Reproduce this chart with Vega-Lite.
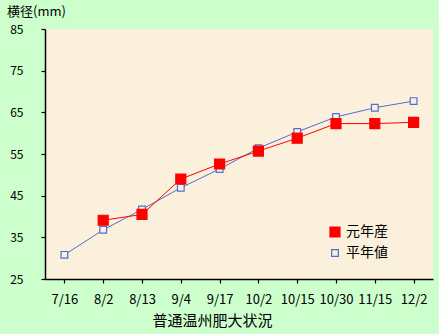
{
  "$schema": "https://vega.github.io/schema/vega-lite/v6.json",
  "width": 388,
  "height": 250,
  "autosize": {"type": "none"},
  "padding": {"left": 45, "top": 29, "right": 6, "bottom": 55},
  "background": "#CCFFCC",
  "title": {"text": "横径(mm)", "anchor": "start", "frame": "group", "dx": -38, "offset": 4, "fontSize": 13, "fontWeight": "normal", "color": "#000000", "font": "Noto Sans CJK JP"},
  "config": {
    "view": {"fill": "#FBF0DC", "stroke": null},
    "font": "Noto Sans CJK JP",
    "axis": {"labelFont": "Noto Sans CJK JP", "titleFont": "Noto Sans CJK JP", "labelColor": "#000000", "titleColor": "#000000", "domainColor": "#000000", "tickColor": "#000000", "labelFontSize": 13, "grid": false, "zindex": 1, "ticks": true, "tickWidth": 1.2}
  },
  "data": {"values": [
    {"date": "7/16", "series": "平年値", "v": 30.8},
    {"date": "8/2", "series": "平年値", "v": 36.8},
    {"date": "8/13", "series": "平年値", "v": 41.7},
    {"date": "9/4", "series": "平年値", "v": 46.9},
    {"date": "9/17", "series": "平年値", "v": 51.4},
    {"date": "10/2", "series": "平年値", "v": 56.4},
    {"date": "10/15", "series": "平年値", "v": 60.3},
    {"date": "10/30", "series": "平年値", "v": 63.9},
    {"date": "11/15", "series": "平年値", "v": 66.1},
    {"date": "12/2", "series": "平年値", "v": 67.7},
    {"date": "8/2", "series": "元年産", "v": 39.1},
    {"date": "8/13", "series": "元年産", "v": 40.5},
    {"date": "9/4", "series": "元年産", "v": 49.0},
    {"date": "9/17", "series": "元年産", "v": 52.6},
    {"date": "10/2", "series": "元年産", "v": 55.7},
    {"date": "10/15", "series": "元年産", "v": 58.8},
    {"date": "10/30", "series": "元年産", "v": 62.3},
    {"date": "11/15", "series": "元年産", "v": 62.3},
    {"date": "12/2", "series": "元年産", "v": 62.6}
  ]},
  "encoding": {
    "x": {"field": "date", "type": "ordinal", "sort": ["7/16","8/2","8/13","9/4","9/17","10/2","10/15","10/30","11/15","12/2"],
      "scale": {"paddingInner": 0, "paddingOuter": 0},
      "axis": {"title": "普通温州肥大状況", "labelAngle": 0, "bandPosition": 0, "tickSize": 4, "labelPadding": 10, "titleFontSize": 15, "titleFontWeight": "normal", "titleX": 167, "titleY": 41, "titleAlign": "center", "titleBaseline": "middle", "domainWidth": 1.5}},
    "y": {"field": "v", "type": "quantitative", "scale": {"domain": [25, 85], "nice": false, "zero": false},
      "axis": {"title": null, "values": [25,35,45,55,65,75,85], "tickSize": 4, "labelPadding": 18, "labelFontSize": 12, "domainWidth": 1.5}}
  },
  "layer": [
    {"mark": {"type": "line", "strokeWidth": 1},
     "encoding": {"stroke": {"field": "series", "type": "nominal", "scale": {"domain": ["元年産","平年値"], "range": ["#FF0000", "#4F6FD0"]},
         "legend": {"title": null, "orient": "none", "legendX": 283, "legendY": 196, "symbolType": "square", "labelFontSize": 14, "labelFont": "Noto Sans CJK JP", "labelColor": "#000000", "rowPadding": 6, "symbolStrokeWidth": 1.2}}}},
    {"mark": {"type": "point", "shape": "square", "strokeWidth": 1.2, "opacity": 1},
     "encoding": {
       "stroke": {"field": "series", "type": "nominal", "scale": {"domain": ["元年産","平年値"], "range": ["#FF0000", "#4F6FD0"]},
         "legend": {"title": null, "orient": "none", "legendX": 283, "legendY": 196, "symbolType": "square", "labelFontSize": 14, "labelFont": "Noto Sans CJK JP", "labelColor": "#000000", "rowPadding": 6, "symbolStrokeWidth": 1.2}},
       "fill": {"field": "series", "type": "nominal", "scale": {"domain": ["元年産","平年値"], "range": ["#FF0000", "#FBF0DC"]}, "legend": {"title": null}},
       "size": {"field": "series", "type": "nominal", "scale": {"domain": ["元年産","平年値"], "range": [100, 45]}, "legend": {"title": null}}
     }}
  ]
}
